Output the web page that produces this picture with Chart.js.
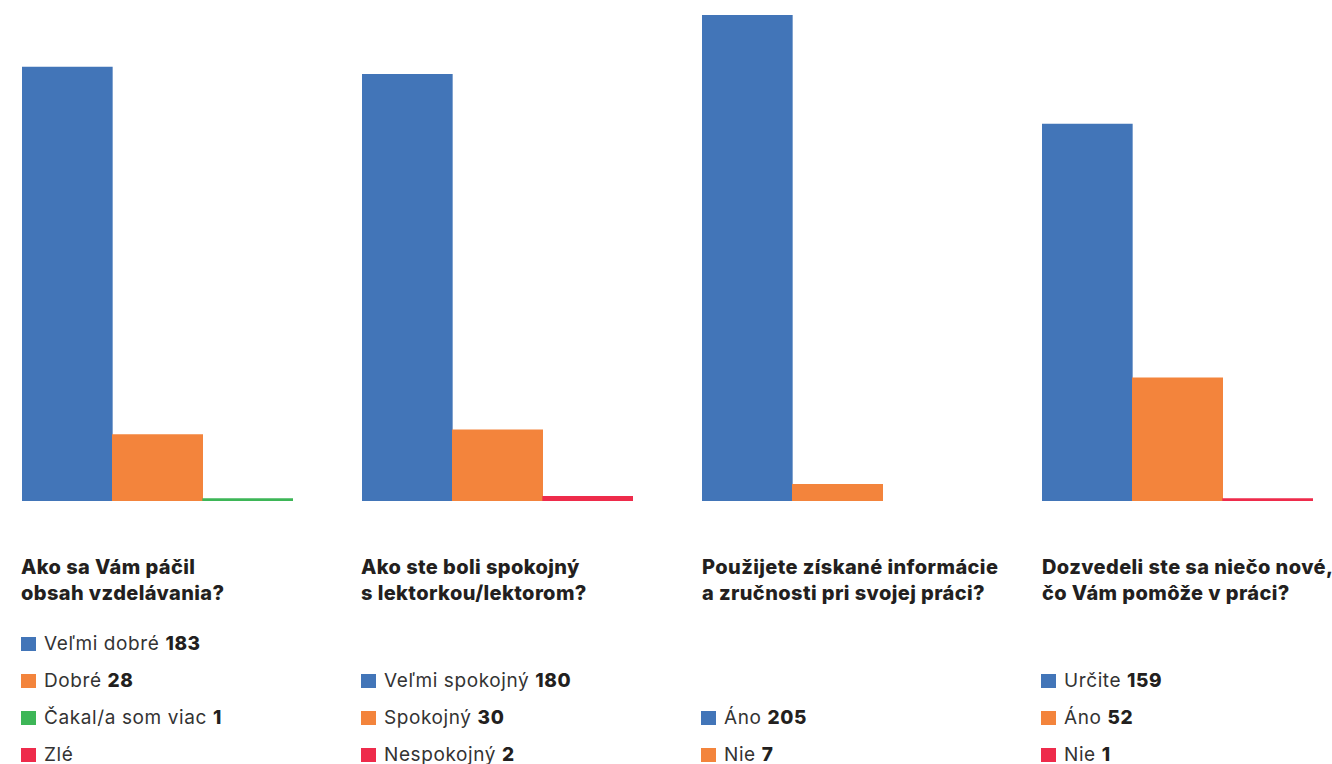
<!DOCTYPE html>
<html>
<head>
<meta charset="utf-8">
<script src="https://cdn.jsdelivr.net/npm/chart.js@4/dist/chart.umd.min.js"></script>
<style>
  html, body { margin: 0; padding: 0; background: #fff; }
  body { width: 1332px; height: 764px; position: relative; overflow: hidden; font-family: Inter, "Liberation Sans", sans-serif; }
  .plot { position: absolute; top: 15px; width: 271px; height: 486px; }
  .title { position: absolute; top: 554px; font-size: 20px; line-height: 26px; font-weight: 800; letter-spacing: 0.4px; color: #231f20; white-space: nowrap; }
  .legend { position: absolute; font-size: 19px; line-height: 37px; letter-spacing: 0.6px; color: #333; white-space: nowrap; }
  .legend .sw { display: inline-block; width: 15px; height: 14px; margin-right: 8px; vertical-align: -1px; }
  .legend b { color: #231f20; font-weight: 800; }
</style>
</head>
<body>
<script>
const BLUE = '#4275b8', ORANGE = '#f3843c', GREEN = '#3db657', RED = '#ee2b4b';

const titles = [
  ['Ako sa Vám páčil', 'obsah vzdelávania?'],
  ['Ako ste boli spokojný', 's lektorkou/lektorom?'],
  ['Použijete získané informácie', 'a zručnosti pri svojej práci?'],
  ['Dozvedeli ste sa niečo nové,', 'čo Vám pomôže v práci?']
];

const q1Labels = ['Veľmi dobré', 'Dobré', 'Čakal/a som viac', 'Zlé'];
const q1Values = [183, 28, 1, null];
const q1Colors = [BLUE, ORANGE, GREEN, RED];

const q2Labels = ['Veľmi spokojný', 'Spokojný', 'Nespokojný'];
const q2Values = [180, 30, 2];
const q2Colors = [BLUE, ORANGE, RED];

const q3Labels = ['Áno', 'Nie'];
const q3Values = [205, 7];
const q3Colors = [BLUE, ORANGE];

const q4Labels = ['Určite', 'Áno', 'Nie'];
const q4Values = [159, 52, 1];
const q4Colors = [BLUE, ORANGE, RED];

const groups = [
  { labels: q1Labels, values: q1Values, colors: q1Colors },
  { labels: q2Labels, values: q2Values, colors: q2Colors },
  { labels: q3Labels, values: q3Values, colors: q3Colors },
  { labels: q4Labels, values: q4Values, colors: q4Colors }
];

const titleLeft = [21, 361, 702, 1042];
const legendLeft = [21, 361, 701, 1041];
const plotLeft = [22, 362, 702, 1042];
const yMax = 205;

groups.forEach((g, i) => {
  // bars: only categories that have a value, padded to 3 slots
  const idx = g.values.map((v, k) => k).filter(k => g.values[k] != null);
  const barLabels = idx.map(k => g.labels[k]);
  const barValues = idx.map(k => g.values[k]);
  const barColors = idx.map(k => g.colors[k]);
  while (barLabels.length < 3) { barLabels.push(''); barValues.push(null); barColors.push('transparent'); }

  const box = document.createElement('div');
  box.className = 'plot';
  box.style.left = plotLeft[i] + 'px';
  const canvas = document.createElement('canvas');
  box.appendChild(canvas);
  document.body.appendChild(box);

  new Chart(canvas, {
    type: 'bar',
    data: {
      labels: barLabels,
      datasets: [{
        data: barValues,
        backgroundColor: barColors,
        borderWidth: 0,
        barPercentage: 1,
        categoryPercentage: 1
      }]
    },
    options: {
      animation: false,
      responsive: true,
      maintainAspectRatio: false,
      layout: { padding: 0 },
      plugins: { legend: { display: false }, tooltip: { enabled: false } },
      scales: {
        x: { display: false },
        y: { display: false, min: 0, max: yMax }
      }
    }
  });

  const t = document.createElement('div');
  t.className = 'title';
  t.style.left = titleLeft[i] + 'px';
  t.innerHTML = titles[i].join('<br>');
  document.body.appendChild(t);

  const lg = document.createElement('div');
  lg.className = 'legend';
  lg.style.left = legendLeft[i] + 'px';
  lg.style.top = (773 - g.labels.length * 37) + 'px';
  g.labels.forEach((lab, k) => {
    const row = document.createElement('div');
    const val = g.values[k] != null ? ' <b>' + g.values[k] + '</b>' : '';
    row.innerHTML = '<span class="sw" style="background:' + g.colors[k] + '"></span>' + lab + val;
    lg.appendChild(row);
  });
  document.body.appendChild(lg);
});
</script>
</body>
</html>
